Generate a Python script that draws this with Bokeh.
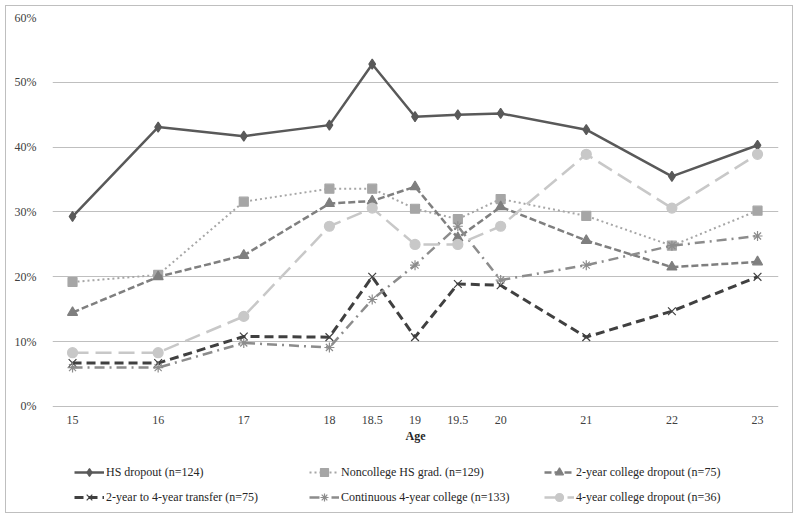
from bokeh.plotting import figure
from bokeh.models import (Range1d, FixedTicker, PrintfTickFormatter, Legend, LegendItem)
from bokeh.embed import file_html
from bokeh.resources import INLINE

ages = [15, 16, 17, 18, 18.5, 19, 19.5, 20, 21, 22, 23]
age_labels = ["15", "16", "17", "18", "18.5", "19", "19.5", "20", "21", "22", "23"]
y_ticks = [0, 10, 20, 30, 40, 50, 60]

hs_dropout = [29.3, 43.1, 41.7, 43.4, 52.8, 44.7, 45.0, 45.2, 42.7, 35.5, 40.3]
noncollege_grad = [19.2, 20.3, 31.6, 33.6, 33.6, 30.5, 28.9, 32.0, 29.4, 24.8, 30.2]
two_year_dropout = [14.5, 20.0, 23.3, 31.3, 31.7, 33.9, 26.0, 30.8, 25.6, 21.5, 22.3]
transfer = [6.7, 6.7, 10.8, 10.7, 20.0, 10.7, 18.9, 18.7, 10.7, 14.7, 20.0]
continuous = [6.0, 6.0, 9.8, 9.1, 16.5, 21.8, 27.8, 19.5, 21.8, 24.8, 26.3]
four_year_dropout = [8.3, 8.3, 13.9, 27.8, 30.6, 25.0, 25.0, 27.8, 38.9, 30.6, 38.9]

series_names = ["HS dropout (n=124)", "Noncollege HS grad. (n=129)", "2-year college dropout (n=75)",
                "2-year to 4-year transfer (n=75)", "Continuous 4-year college (n=133)",
                "4-year college dropout (n=36)"]

FONT = "Liberation Serif"

# frame runs down to the bottom so the legend (below the x labels) sits inside it
p = figure(width=788, height=508, output_backend="svg", toolbar_location=None,
           x_range=Range1d(14.766, 23.245), y_range=Range1d(-16.35, 60),
           min_border_left=46, min_border_right=16, min_border_top=11, min_border_bottom=2)
p.styles = {"border": "1px solid #bfbfbf", "margin": "5px"}
p.outline_line_color = None
p.background_fill_color = "white"
p.border_fill_color = "white"

p.xgrid.grid_line_color = None
p.ygrid.grid_line_color = "#bfbfbf"
p.ygrid.grid_line_width = 1
p.ygrid.ticker = FixedTicker(ticks=y_ticks)

p.yaxis.ticker = FixedTicker(ticks=y_ticks)
p.yaxis.formatter = PrintfTickFormatter(format="%d%%")
p.xaxis.ticker = FixedTicker(ticks=ages)
p.xaxis.major_label_overrides = {a: l for a, l in zip(ages, age_labels)}
p.xaxis.fixed_location = 0
for ax in (p.xaxis[0], p.yaxis[0]):
    ax.axis_line_color = None
    ax.major_tick_line_color = None
    ax.minor_tick_line_color = None
    ax.major_label_text_font = FONT
    ax.major_label_text_font_size = "12px"
    ax.major_label_text_color = "#404040"
p.yaxis.major_label_standoff = 10
p.xaxis.major_label_standoff = 4
p.xaxis.axis_label = "Age"
p.xaxis.axis_label_text_font = FONT
p.xaxis.axis_label_text_font_size = "12px"
p.xaxis.axis_label_text_font_style = "bold"
p.xaxis.axis_label_text_color = "#262626"
p.xaxis.axis_label_standoff = 1

styles = [
    dict(data=hs_dropout, color="#595959", width=2.5, dash="solid", marker="diamond", size=10, mcolor="#595959"),
    dict(data=noncollege_grad, color="#a6a6a6", width=2, dash="2 3", marker="square", size=9, mcolor="#a6a6a6"),
    dict(data=two_year_dropout, color="#7f7f7f", width=2.5, dash="7 3", marker="triangle", size=10, mcolor="#7f7f7f"),
    dict(data=transfer, color="#404040", width=3, dash="9 5", marker="x", size=11, mcolor="#404040"),
    dict(data=continuous, color="#8c8c8c", width=2.5, dash="10 5 2 5", marker="asterisk", size=10, mcolor="#8c8c8c"),
    dict(data=four_year_dropout, color="#c8c8c8", width=2.5, dash="16 7", marker="circle", size=10, mcolor="#c8c8c8"),
]

items = []
for name, st in zip(series_names, styles):
    lr = p.line(ages, st["data"], line_color=st["color"], line_width=st["width"], line_dash=st["dash"])
    sr = p.scatter(ages, st["data"], marker=st["marker"], size=st["size"],
                   fill_color=st["mcolor"], line_color=st["mcolor"], line_width=1.2)
    items.append(LegendItem(label=name, renderers=[lr, sr]))

legend = Legend(items=items, orientation="horizontal", nrows=2, ncols=3)
legend.label_text_font = FONT
legend.label_text_font_size = "12px"
legend.label_text_color = "#262626"
legend.glyph_width = 30
legend.glyph_height = 20
legend.label_standoff = 2
legend.label_width = 198
legend.label_height = 20
legend.spacing = 5
legend.padding = 4
legend.margin = 0
legend.border_line_color = None
legend.background_fill_alpha = 0
legend.location = (22, 5)
p.add_layout(legend, "center")

open("out.html", "w").write(file_html(p, INLINE))
